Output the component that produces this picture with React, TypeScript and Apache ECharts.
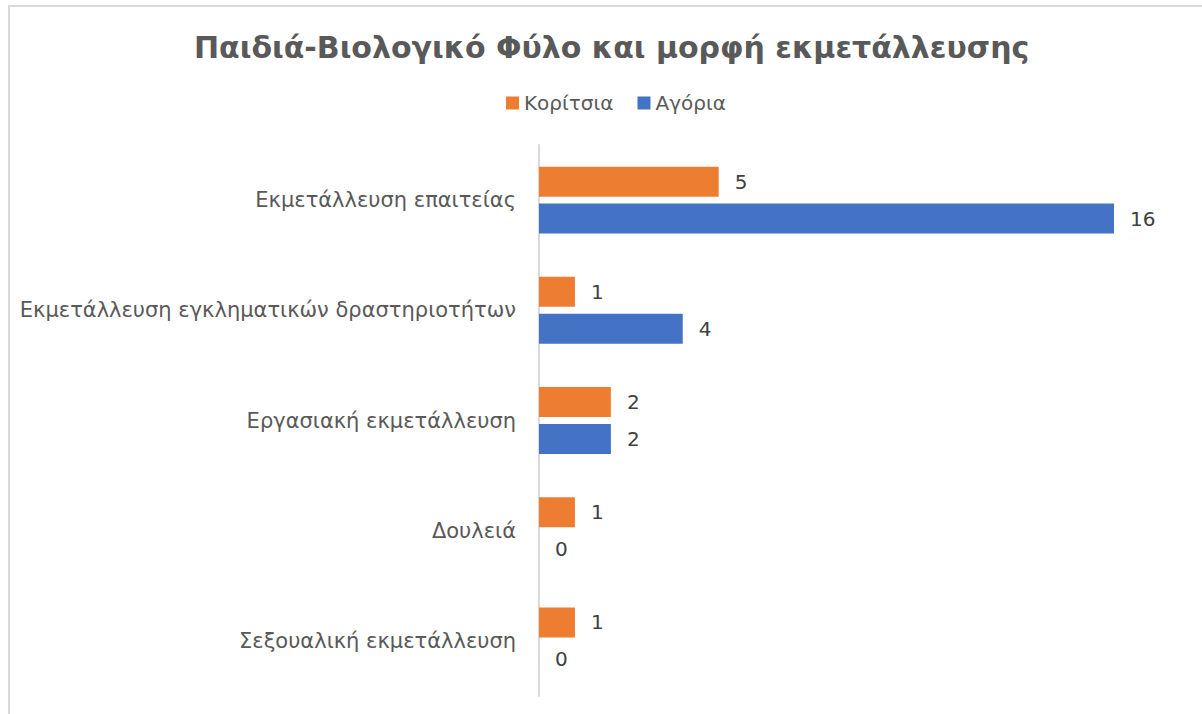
import React, { useEffect, useRef } from "react";
import * as echarts from "echarts";

const categories = [
  "Εκμετάλλευση επαιτείας",
  "Εκμετάλλευση εγκληματικών δραστηριοτήτων",
  "Εργασιακή εκμετάλλευση",
  "Δουλειά",
  "Σεξουαλική εκμετάλλευση",
];
const girls = [5, 1, 2, 1, 1];
const boys = [16, 4, 2, 0, 0];
const seriesNames = ["Κορίτσια", "Αγόρια"];
const titleText = "Παιδιά-Βιολογικό Φύλο και μορφή εκμετάλλευσης";

const FONT = "'DejaVu Sans', 'Open Sans', sans-serif";

export default function App() {
  const ref = useRef<HTMLDivElement>(null);
  useEffect(() => {
    if (!ref.current) return;
    const chart = echarts.init(ref.current, undefined, { renderer: "svg" });
    const label = {
      show: true,
      position: "right" as const,
      distance: 16,
      color: "#404040",
      fontSize: 20,
      fontFamily: FONT,
    };
    chart.setOption({
      animation: false,
      backgroundColor: "#ffffff",
      title: {
        text: titleText,
        left: 189,
        top: 27,
        textStyle: { color: "#595959", fontSize: 30, fontWeight: "bold", fontFamily: FONT },
      },
      legend: {
        data: seriesNames,
        top: 88,
        left: 501,
        itemWidth: 13,
        itemHeight: 13,
        itemGap: 24,
        itemStyle: { borderWidth: 0 },
        icon: "rect",
        textStyle: { color: "#595959", fontSize: 20, fontFamily: FONT },
      },
      graphic: [
        {
          type: "rect",
          shape: { x: 9, y: 6, width: 1300, height: 800 },
          style: { fill: "none", stroke: "#d9d9d9", lineWidth: 2 },
          silent: true,
        },
      ],
      grid: { left: 539, right: 88, top: 145, bottom: 18, containLabel: false },
      xAxis: {
        type: "value",
        min: 0,
        max: 16,
        show: false,
        splitLine: { show: false },
      },
      yAxis: {
        type: "category",
        data: categories,
        inverse: true,
        axisLine: { show: true, lineStyle: { color: "#d9d9d9", width: 2 } },
        axisTick: { show: false },
        axisLabel: {
          color: "#595959",
          fontSize: 21,
          fontFamily: FONT,
          margin: 23,
        },
      },
      series: [
        {
          name: seriesNames[0],
          type: "bar",
          data: girls,
          barWidth: 30,
          barGap: "23%",
          itemStyle: { color: "#ED7D31" },
          label,
        },
        {
          name: seriesNames[1],
          type: "bar",
          data: boys,
          barWidth: 30,
          itemStyle: { color: "#4472C4" },
          label,
        },
      ],
    });
    return () => chart.dispose();
  }, []);
  return (
    <div
      ref={ref}
      style={{ position: "fixed", left: 0, top: 0, width: 1202, height: 714 }}
    />
  );
}
